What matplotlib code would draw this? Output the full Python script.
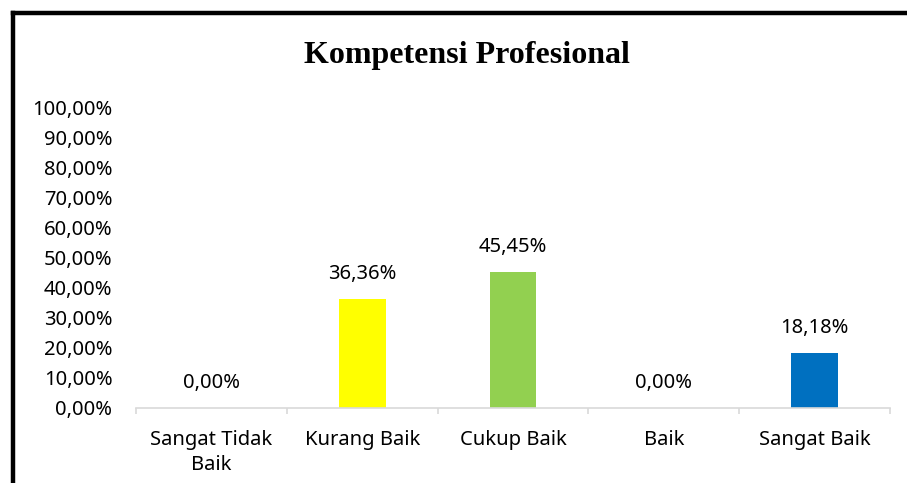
import numpy as np
import matplotlib.pyplot as plt
from matplotlib.lines import Line2D

# ------------------------------
# Data
# ------------------------------
categories = ["Sangat Tidak\nBaik", "Kurang Baik", "Cukup Baik", "Baik", "Sangat Baik"]
values = [0.0, 36.36, 45.45, 0.0, 18.18]
colors = ["#4472C4", "#FFFF00", "#92D050", "#A5A5A5", "#0070C0"]
yticks = [0, 10, 20, 30, 40, 50, 60, 70, 80, 90, 100]

plt.rcParams['font.family'] = ['Noto Sans', 'DejaVu Sans']

fig = plt.figure(figsize=(9.07, 4.83), dpi=100)
ax = fig.add_axes([0.150, 0.1553, 0.8313, 0.6211])

x = np.arange(len(categories))
ax.bar(x, values, width=0.31, color=colors)

for xi, v in zip(x, values):
    ax.annotate(f"{v:.2f}".replace('.', ',') + "%", (xi, v),
                xytext=(0, 18), textcoords='offset points',
                ha='center', va='center', fontsize=14.5, color='#000000')

ax.set_xlim(-0.5, len(categories) - 0.5)
ax.set_ylim(0, 100)
ax.set_yticks(yticks)
ax.set_yticklabels([f"{t:.2f}".replace('.', ',') + "%" for t in yticks])
ax.set_xticks(x)
ax.set_xticklabels(categories, linespacing=1.35)
ax.set_xticks(np.arange(-0.5, len(categories)), minor=True)

ax.tick_params(axis='y', length=0, pad=17, labelsize=14.5)
ax.tick_params(axis='x', which='major', length=0, pad=16, labelsize=14.5)
ax.tick_params(axis='x', which='minor', length=4.5, color='#D9D9D9', width=1.2)

for s in ['top', 'right', 'left']:
    ax.spines[s].set_visible(False)
ax.spines['bottom'].set_color('#D9D9D9')
ax.spines['bottom'].set_linewidth(1.2)

fig.text(0.515, 0.886, "Kompetensi Profesional", ha='center', va='center',
         fontsize=23, fontweight='bold', family='Liberation Serif')

# рамка
fig.add_artist(Line2D([13 / 907, 1], [1 - 13 / 483, 1 - 13 / 483],
                      color='black', linewidth=3.2, transform=fig.transFigure))
fig.add_artist(Line2D([13 / 907, 13 / 907], [1 - 13 / 483, 0],
                      color='black', linewidth=3.2, transform=fig.transFigure))

fig.savefig("out.png", dpi=100)
